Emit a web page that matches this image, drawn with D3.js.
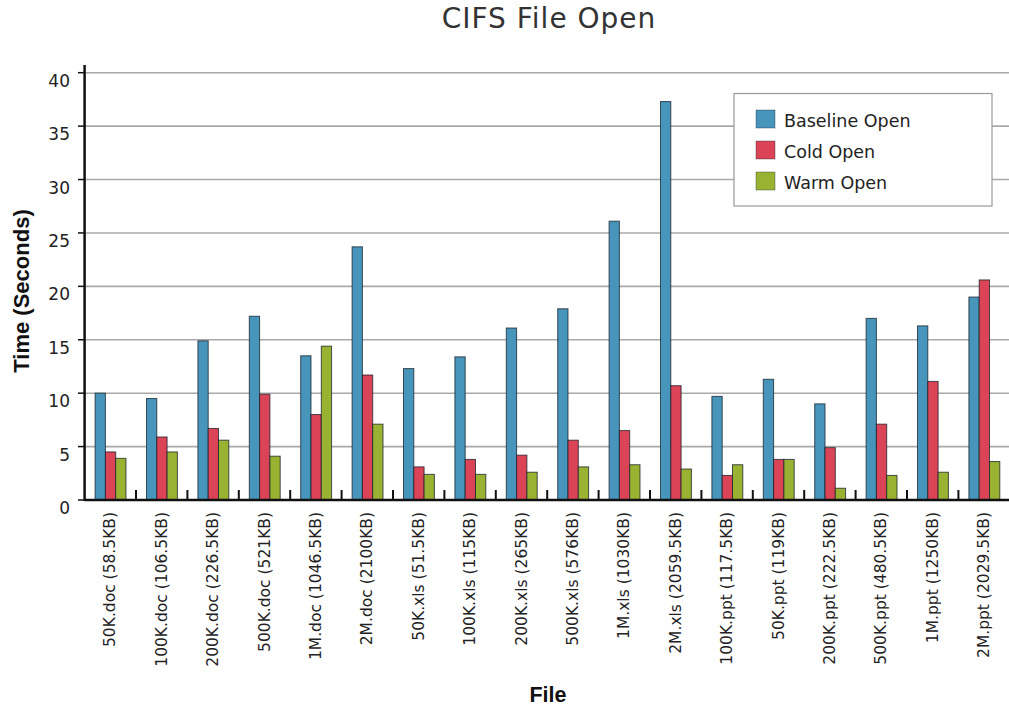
<!DOCTYPE html>
<html>
<head>
<meta charset="utf-8">
<script src="https://cdn.jsdelivr.net/npm/d3@7"></script>
<style>
  html, body { margin: 0; padding: 0; background: #fff; }
  svg { display: block; }
</style>
</head>
<body>
<svg id="chart" width="1009" height="709"></svg>
<script>
const categories = [
  "50K.doc (58.5KB)", "100K.doc (106.5KB)", "200K.doc (226.5KB)", "500K.doc (521KB)",
  "1M.doc (1046.5KB)", "2M.doc (2100KB)", "50K.xls (51.5KB)", "100K.xls (115KB)",
  "200K.xls (265KB)", "500K.xls (576KB)", "1M.xls (1030KB)", "2M.xls (2059.5KB)",
  "100K.ppt (117.5KB)", "50K.ppt (119KB)", "200K.ppt (222.5KB)", "500K.ppt (480.5KB)",
  "1M.ppt (1250KB)", "2M.ppt (2029.5KB)"
];
const seriesNames = ["Baseline Open", "Cold Open", "Warm Open"];
const baselineOpen = [10.0, 9.5, 14.9, 17.2, 13.5, 23.7, 12.3, 13.4, 16.1, 17.9, 26.1, 37.3, 9.7, 11.3, 9.0, 17.0, 16.3, 19.0];
const coldOpen     = [4.5, 5.9, 6.7, 9.9, 8.0, 11.7, 3.1, 3.8, 4.2, 5.6, 6.5, 10.7, 2.3, 3.8, 4.9, 7.1, 11.1, 20.6];
const warmOpen     = [3.9, 4.5, 5.6, 4.1, 14.4, 7.1, 2.4, 2.4, 2.6, 3.1, 3.3, 2.9, 3.3, 3.8, 1.1, 2.3, 2.6, 3.6];
const yTicks = [0, 5, 10, 15, 20, 25, 30, 35, 40];
const colors = ["#4795ba", "#db4357", "#9ab232"];

const seriesValues = [baselineOpen, coldOpen, warmOpen];
const svg = d3.select("#chart");

const x0 = 84.6, x1 = 84.6 + 18 * 51.4;
const yBase = 500, yTop = 72.7;

const x = d3.scaleBand().domain(categories).range([x0, x1]).padding(0);
const xs = d3.scaleBand().domain(seriesNames).range([10.5, 41.4]).padding(0);
const y = d3.scaleLinear().domain([0, 40]).range([yBase, yTop]);

// gridlines
svg.append("g").selectAll("line").data(yTicks.filter(d => d > 0)).join("line")
  .attr("x1", x0).attr("x2", 1009)
  .attr("y1", d => y(d)).attr("y2", d => y(d))
  .attr("stroke", "#a9a9a9").attr("stroke-width", 1.6);

// title
svg.append("text").attr("x", 549).attr("y", 27.5).attr("text-anchor", "middle")
  .attr("font-family", "DejaVu Sans").attr("font-size", 28).attr("letter-spacing", 1)
  .attr("fill", "#333")
  .text("CIFS File Open");

// bars
const groups = svg.append("g").selectAll("g").data(categories).join("g")
  .attr("transform", d => `translate(${x(d)},0)`);
groups.selectAll("rect").data((d, i) => seriesNames.map((s, k) => ({ s, v: seriesValues[k][i], k })))
  .join("rect")
  .attr("x", d => xs(d.s))
  .attr("width", xs.bandwidth())
  .attr("y", d => y(d.v))
  .attr("height", d => yBase - y(d.v))
  .attr("fill", d => colors[d.k])
  .attr("stroke", "rgba(20,30,40,0.75)")
  .attr("stroke-width", 1);

// x category ticks (between groups)
svg.append("g").selectAll("line").data(categories.slice(1)).join("line")
  .attr("x1", d => x(d)).attr("x2", d => x(d))
  .attr("y1", yBase - 10).attr("y2", yBase)
  .attr("stroke", "#111").attr("stroke-width", 2);

// axes lines
svg.append("line").attr("x1", x0).attr("x2", 1009).attr("y1", yBase).attr("y2", yBase)
  .attr("stroke", "#111").attr("stroke-width", 2.5);
svg.append("line").attr("x1", x0).attr("x2", x0).attr("y1", 65).attr("y2", yBase + 1)
  .attr("stroke", "#111").attr("stroke-width", 2.5);

// y ticks and labels
const yAxisG = svg.append("g");
yAxisG.selectAll("line").data(yTicks).join("line")
  .attr("x1", 78).attr("x2", x0).attr("y1", d => y(d)).attr("y2", d => y(d))
  .attr("stroke", "#111").attr("stroke-width", 1.5);
yAxisG.selectAll("text").data(yTicks).join("text")
  .attr("x", 70).attr("y", d => y(d) + 14)
  .attr("text-anchor", "end")
  .attr("font-family", "DejaVu Sans").attr("font-size", 17).attr("fill", "#222")
  .text(d => d);

// x labels
svg.append("g").selectAll("text").data(categories).join("text")
  .attr("transform", d => `translate(${x(d) + x.bandwidth() / 2},512) rotate(-90)`)
  .attr("text-anchor", "end")
  .attr("dominant-baseline", "central")
  .attr("font-family", "DejaVu Sans").attr("font-size", 15.5).attr("fill", "#222")
  .text(d => d);

// axis titles
svg.append("text").attr("transform", "translate(29,291) rotate(-90)")
  .attr("text-anchor", "middle")
  .attr("font-family", "Liberation Sans").attr("font-weight", "bold").attr("font-size", 22).attr("fill", "#111")
  .text("Time (Seconds)");
svg.append("text").attr("x", 548).attr("y", 702).attr("text-anchor", "middle")
  .attr("font-family", "Liberation Sans").attr("font-weight", "bold").attr("font-size", 21.5).attr("fill", "#111")
  .text("File");

// legend
const lg = svg.append("g");
lg.append("rect").attr("x", 734).attr("y", 93.5).attr("width", 258).attr("height", 112.5)
  .attr("fill", "#fff").attr("stroke", "#999").attr("stroke-width", 1.2);
const items = lg.selectAll("g").data(seriesNames).join("g")
  .attr("transform", (d, i) => `translate(756,${110 + i * 31})`);
items.append("rect").attr("width", 19).attr("height", 18)
  .attr("fill", (d, i) => colors[i]).attr("stroke", "rgba(20,30,40,0.35)").attr("stroke-width", 1);
items.append("text").attr("x", 28).attr("y", 16.5)
  .attr("font-family", "DejaVu Sans").attr("font-size", 17.5).attr("fill", "#222")
  .text(d => d);
</script>
</body>
</html>
